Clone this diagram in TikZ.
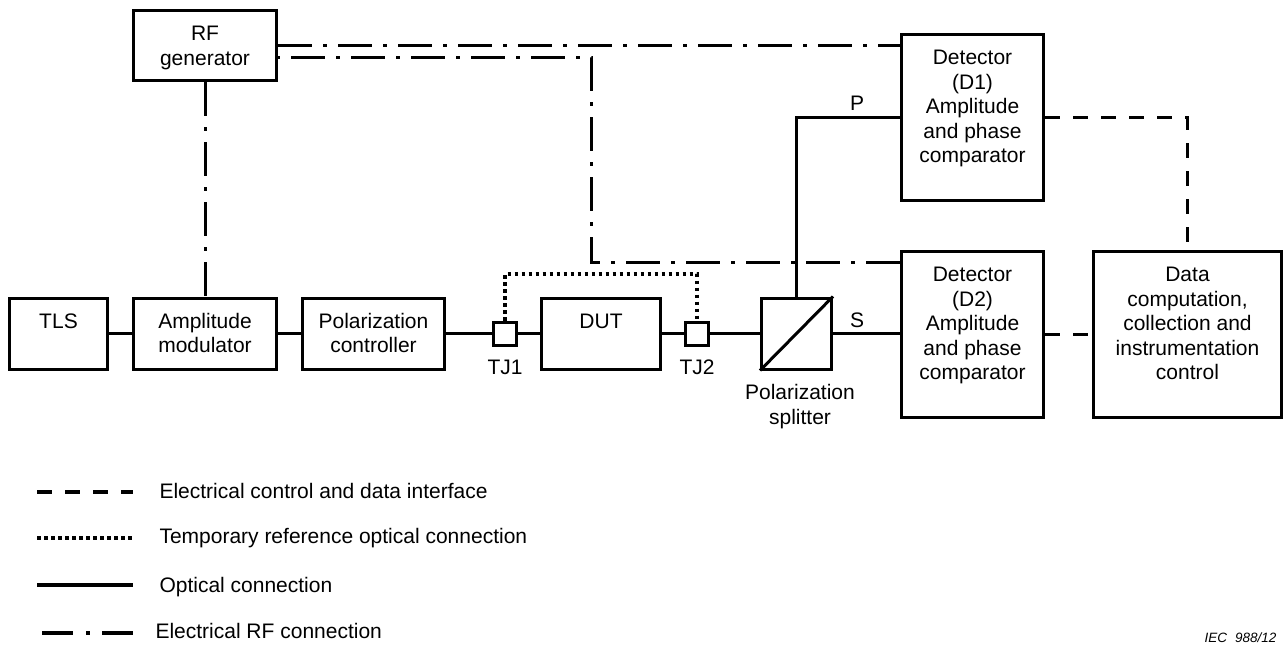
\documentclass[tikz,border=0pt]{standalone}
\usepackage{fontspec}
\setmainfont{Liberation Sans}
\begin{document}
\begin{tikzpicture}[x=1pt,y=-1pt,line width=3pt,
  box/.style={draw,rectangle,inner sep=0pt,line width=3pt},
  txt/.style={anchor=north,inner sep=0pt,align=center,font=\fontsize{21}{24.5}\selectfont},
  lbl/.style={inner sep=0pt,font=\fontsize{21}{24.5}\selectfont},
  rfline/.style={dash pattern=on 34pt off 11pt on 4pt off 11pt},
  ctlline/.style={dash pattern=on 15pt off 13pt},
  tmpline/.style={line width=3.4pt,dash pattern=on 3.5pt off 3.5pt},
]
\useasboundingbox (0,0) rectangle (1285,646);
\def\fs{\rule{0pt}{16pt}}
% boxes
\node[box,minimum width=143pt,minimum height=70pt] (rfg) at (205,45.5) {};
\node[box,minimum width=98pt,minimum height=71pt] (tls) at (58.5,333.5) {};
\node[box,minimum width=143pt,minimum height=71pt] (am) at (205,333.5) {};
\node[box,minimum width=142pt,minimum height=71pt] (pc) at (373.5,333.5) {};
\node[box,minimum width=23pt,minimum height=23pt] (tj1) at (505,333.5) {};
\node[box,minimum width=119pt,minimum height=71pt] (dut) at (601,333.5) {};
\node[box,minimum width=23pt,minimum height=23pt] (tj2) at (697,333.5) {};
\node[box,minimum width=70pt,minimum height=71pt] (ps) at (796.5,333.5) {};
\node[box,minimum width=142pt,minimum height=166pt] (d1) at (972.5,117.5) {};
\node[box,minimum width=142pt,minimum height=166pt] (d2) at (972.5,334.5) {};
\node[box,minimum width=188pt,minimum height=166pt] (dc) at (1187.5,334.5) {};
% box texts
\node[txt] (trfg) at ([yshift=-14pt]rfg.north) {\fs RF\\generator};
\node[txt] (ttls) at ([yshift=-14pt]tls.north) {\fs TLS};
\node[txt] (tam) at ([yshift=-14pt]am.north) {\fs Amplitude\\modulator};
\node[txt] (tpc) at ([yshift=-14pt]pc.north) {\fs Polarization\\controller};
\node[txt] (tdut) at ([yshift=-14pt]dut.north) {\fs DUT};
\node[txt] (td1) at ([yshift=-14pt]d1.north) {\fs Detector\\(D1)\\Amplitude\\and phase\\comparator};
\node[txt] (td2) at ([yshift=-14pt]d2.north) {\fs Detector\\(D2)\\Amplitude\\and phase\\comparator};
\node[txt] (tdc) at ([yshift=-14pt]dc.north) {\fs Data\\computation,\\collection and\\instrumentation\\control};
% labels
\node[lbl,anchor=base] (ltj1) at (505,374) {TJ1};
\node[lbl,anchor=base] (ltj2) at (697,374) {TJ2};
\node[txt] (lps) at (800,382) {\fs Polarization\\splitter};
\node[lbl,anchor=base] (lp) at (857,110) {P};
\node[lbl,anchor=base] (ls) at (857,327) {S};
% optical connections
\draw (tls.east) -- (am.west);
\draw (am.east) -- (pc.west);
\draw (pc.east) -- (tj1.west);
\draw (tj1.east) -- (dut.west);
\draw (dut.east) -- (tj2.west);
\draw (tj2.east) -- (ps.west);
\draw (ps.east) -- (ps.east -| d2.west);
\draw (ps.north) |- (d1.west);
\draw (ps.south west) -- (ps.north east);
% temporary reference
\coordinate (dtop) at (0,274);
\draw[tmpline] (tj1.north) -- (tj1.north |- dtop) -| (tj2.north);
% RF connections
\draw[rfline] (rfg.south) -- (am.north);
\draw[rfline] (rfg.east) -- (rfg.east -| d1.west);
\coordinate (rfb) at (591,57);
\coordinate (rfc) at (591,262);
\draw[rfline,dash phase=47pt] (rfg.east |- rfb) -- (rfb) -- (rfc) -- (rfc -| d2.west);
% electrical control
\draw[ctlline] (d1.east) -| (dc.north);
\draw[ctlline] (d2.east) -- (d2.east -| dc.west);
% legend
\coordinate (la1) at (37,492); \coordinate (lb1) at (133,492);
\coordinate (la2) at (37,538); \coordinate (lb2) at (133,538);
\coordinate (la3) at (37,585); \coordinate (lb3) at (133,585);
\coordinate (la4) at (42,633); \coordinate (lb4) at (133,633);
\draw[ctlline,line width=3.2pt] (la1) -- (lb1);
\draw[tmpline] (la2) -- (lb2);
\draw[line width=3.2pt] (la3) -- (lb3);
\draw[line width=3.2pt,dash pattern=on 31pt off 13pt on 4pt off 12pt] (la4) -- (lb4);
\node[lbl,anchor=base west] (lt1) at (158,498.5) {Electrical control and data interface};
\node[lbl,anchor=base west] (lt2) at (158,543) {Temporary reference optical connection};
\node[lbl,anchor=base west] (lt3) at (158,592) {Optical connection};
\node[lbl,anchor=base west] (lt4) at (154,638) {Electrical RF connection};
\node[inner sep=0pt,anchor=base west,font=\fontsize{13.5}{16}\selectfont\itshape] (iec) at (1203,642) {IEC\hspace{8pt}988/12};
\end{tikzpicture}
\end{document}
